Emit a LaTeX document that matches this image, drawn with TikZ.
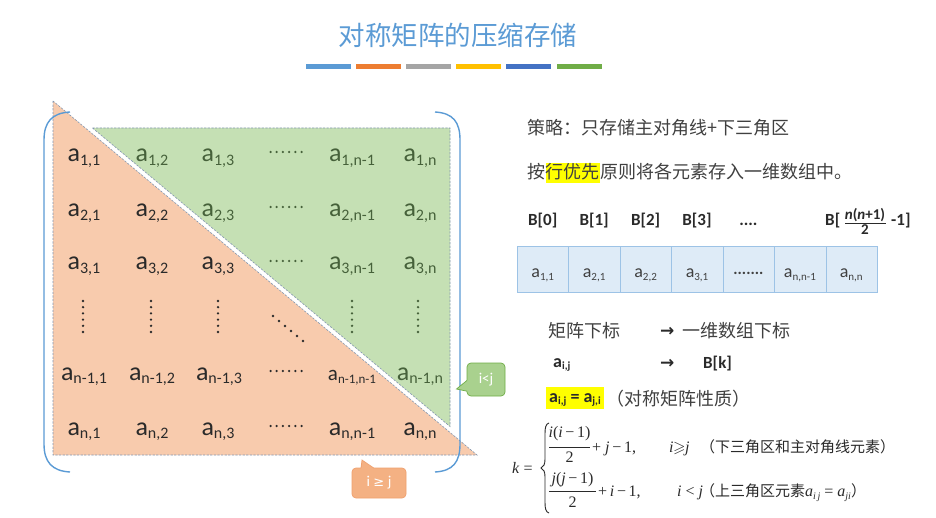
\documentclass[tikz,border=0pt]{standalone}
\usepackage{amsmath,amssymb}
\usepackage[no-math]{fontspec}
\usepackage{graphicx}
\setmainfont{Carlito}
\newfontfamily\cjk{Noto Sans CJK SC}
\newfontfamily\djv{DejaVu Sans}
\newfontfamily\tms{Liberation Serif}
\definecolor{ttl}{HTML}{5B9BD5}
\definecolor{bara}{HTML}{5B9BD5}
\definecolor{barb}{HTML}{ED7D31}
\definecolor{barc}{HTML}{A5A5A5}
\definecolor{bard}{HTML}{FFC000}
\definecolor{bare}{HTML}{4472C4}
\definecolor{barf}{HTML}{70AD47}
\definecolor{orf}{HTML}{F8CBAD}
\definecolor{grf}{HTML}{C5E0B4}
\definecolor{dsh}{HTML}{8497B0}
\definecolor{brkc}{HTML}{5B9BD5}
\definecolor{txd}{HTML}{2A2A2A}
\definecolor{txg}{HTML}{46613A}
\definecolor{cgf}{HTML}{A9D18E}
\definecolor{cgb}{HTML}{70AD47}
\definecolor{cof}{HTML}{F4B183}
\definecolor{cob}{HTML}{EFA06E}
\definecolor{cellf}{HTML}{DEEBF7}
\definecolor{cellb}{HTML}{9DC3E6}
\definecolor{gtx}{HTML}{404040}
\definecolor{hly}{HTML}{FFFF00}
\newcommand\ael[3]{{\fontsize{#1}{#1}\selectfont a\raisebox{-0.3ex}{\fontsize{#2}{#2}\selectfont #3}}}
\newcommand\abl[3]{{\fontsize{#1}{#1}\selectfont\bfseries a\raisebox{-0.3ex}{\fontsize{#2}{#2}\selectfont #3}}}
\newcommand\mentry[1]{\ael{26}{16}{#1}}
\newcommand\tmi[1]{{\tms\fontsize{16}{16}\selectfont\itshape #1}}
\newcommand\tmsb[1]{\raisebox{-3pt}{\tms\fontsize{10}{10}\selectfont\itshape #1}}
\begin{document}
\begin{tikzpicture}[x=1pt,y=-1pt,
  me/.style={anchor=base,inner sep=0pt},
  med/.style={me,text=txd},
  meg/.style={me,text=txg},
  dashb/.style={draw=dsh,line width=0.6pt,dash pattern=on 2.2pt off 1.4pt},
  brk/.style={draw=brkc,line width=1.4pt},
  cjkt/.style={inner sep=0pt,text=gtx,font=\cjk\fontsize{18}{18}\selectfont},
  cjks/.style={inner sep=0pt,text=txd,font=\cjk\fontsize{15}{15}\selectfont,anchor=base west},
  fm/.style={inner sep=0pt,text=txd,font=\tms\fontsize{16}{16}\selectfont},
  blab/.style={anchor=base,inner sep=0pt,text=txd,font=\fontsize{17}{17}\selectfont\bfseries},
  fracpart/.style={inner sep=0pt,text=txd,font=\fontsize{15}{15}\selectfont\bfseries},
  cellbox/.style={draw=cellb,fill=cellf,line width=0.8pt,minimum width=51.43pt,minimum height=46pt,anchor=north west,inner sep=0pt},
  celltxt/.style={anchor=base,inner sep=0pt,text=gtx},
  arr/.style={anchor=base west,inner sep=0pt,text=txd,font=\djv\bfseries\fontsize{17}{17}\selectfont},
  callg/.style={draw=cgb,fill=cgf,rounded corners=4pt,line width=0.7pt,minimum width=38pt,minimum height=33pt,inner sep=0pt,text=white,font=\fontsize{15}{15}\selectfont},
  callo/.style={draw=cob,fill=cof,rounded corners=4pt,line width=0.7pt,minimum width=54pt,minimum height=30pt,inner sep=0pt,text=white,font=\fontsize{15}{15}\selectfont}
]
\useasboundingbox (0,0) rectangle (936,518);
\fill[white] (0,0) rectangle (936,518);

% title and colour bars
\node[text=ttl,font=\cjk\fontsize{26.5}{26.5}\selectfont] (title) at (458,35) {对称矩阵的压缩存储};
\foreach \xx/\cc in {306/bara,356/barb,406/barc,456/bard,506/bare,557/barf}
  \fill[\cc] (\xx,64) rectangle ++(45,5);

% matrix regions
\fill[orf] (53,101) -- (53,455) -- (477,455) -- cycle;
\draw[dashb] (53,101) -- (53,455) -- (477,455) -- cycle;
\fill[grf] (92.5,128) -- (450,128) -- (450,426.5) -- cycle;
\draw[dashb] (92.5,128) -- (450,128) -- (450,426.5) -- cycle;

% brackets
\draw[brk] (70,112) .. controls (52,113) and (44,122) .. (44,140) -- (44,444) .. controls (44,462) and (52,471) .. (70,472);
\draw[brk] (435,112) .. controls (453,113) and (460,122) .. (460,140) -- (460,444) .. controls (460,462) and (453,471) .. (435,472);

% row 1
\node[med] (a11) at (84,162) {\mentry{1,1}};
\node[meg] (a12) at (152,162) {\mentry{1,2}};
\node[meg] (a13) at (218,162) {\mentry{1,3}};
\node[meg] (a1m) at (352,162) {\mentry{1,n-1}};
\node[meg] (a1n) at (420,162) {\mentry{1,n}};
% row 2
\node[med] (a21) at (84,217) {\mentry{2,1}};
\node[med] (a22) at (152,217) {\mentry{2,2}};
\node[meg] (a23) at (218,217) {\mentry{2,3}};
\node[meg] (a2m) at (352,217) {\mentry{2,n-1}};
\node[meg] (a2n) at (420,217) {\mentry{2,n}};
% row 3
\node[med] (a31) at (84,270) {\mentry{3,1}};
\node[med] (a32) at (152,270) {\mentry{3,2}};
\node[med] (a33) at (218,270) {\mentry{3,3}};
\node[meg] (a3m) at (352,270) {\mentry{3,n-1}};
\node[meg] (a3n) at (420,270) {\mentry{3,n}};
% row n-1
\node[med] (am1) at (84,380) {\mentry{n-1,1}};
\node[med] (am2) at (152,380) {\mentry{n-1,2}};
\node[med] (am3) at (219,380) {\mentry{n-1,3}};
\node[med] (amm) at (352,380) {\ael{21}{13}{n-1,n-1}};
\node[meg] (amn) at (420,380) {\mentry{n-1,n}};
% row n
\node[med] (an1) at (84,435) {\mentry{n,1}};
\node[med] (an2) at (152,435) {\mentry{n,2}};
\node[med] (an3) at (218,435) {\mentry{n,3}};
\node[med] (anm) at (352,435) {\mentry{n,n-1}};
\node[med] (ann) at (420,435) {\mentry{n,n}};

% horizontal dots
\foreach \yy/\cc in {152/txg,207/txg,261/txg,371/txd,426/txd}
  \foreach \k in {0,...,5}
    \fill[\cc] ({270.5+6.2*\k},\yy) circle (1.25pt);
% vertical dots
\foreach \xx/\cc in {83/txd,151/txd,218/txd,352/txg,418/txg}
  \foreach \k in {0,...,5}
    \fill[\cc] (\xx,{301+6.2*\k}) circle (1.3pt);
% diagonal dots
\foreach \k in {0,...,5}
  \fill[txd] ({273+6*\k},{316+5*\k}) circle (1.3pt);

% callouts
\node[callg] (cl) at (486,379.5) {i<j};
\fill[cgf] (467.8,380) -- (456.5,389) -- (467.8,391.5) -- cycle;
\draw[cgb,line width=0.7pt] (467,380.4) -- (456.5,389) -- (467,391.2);
\node[callo] (co) at (379,483) {i {\djv\fontsize{13}{13}\selectfont ≥} j};
\fill[cof] (360.6,468.8) -- (362,460) -- (374.5,468.8) -- cycle;
\draw[cob,line width=0.7pt] (361,468.2) -- (362,460) -- (374,468.2);

% right side text
\node[cjkt,anchor=base west] (l1) at (527,135) {策略：只存储主对角线+下三角区};
\node[cjkt,anchor=base west] (l2a) at (527,179) {按};
\node[cjkt,anchor=base west,fill=hly] (l2b) at (l2a.base east) {\rule[-4pt]{0pt}{20pt}行优先};
\node[cjkt,anchor=base west] (l2c) at (l2b.base east) {原则将各元素存入一维数组中。};

% B labels
\node[blab] (b0) at (542.7,226) {B[0]};
\node[blab] (b1) at (594.1,226) {B[1]};
\node[blab] (b2) at (645.6,226) {B[2]};
\node[blab] (b3) at (697.0,226) {B[3]};
\node[blab] (b4) at (748.4,226) {....};
\node[blab,anchor=base west] (b5a) at (825,226) {B[};
\node[fracpart,anchor=south] (b5n) at (865,221.5) {\textit{n}(\textit{n}+1)};
\node[fracpart,anchor=north] (b5d) at (865,224.5) {2};
\draw[txd,line width=0.8pt] (845,223) -- (886,223);
\node[blab,anchor=base west] (b5b) at (891,226) {-1]};

% array
\foreach \i in {0,...,6}
  \node[cellbox] (cell\i) at ({517+51.43*\i},246) {};
\node[celltxt] (t0) at (542.7,278) {\ael{18}{11}{1,1}};
\node[celltxt] (t1) at (594.1,278) {\ael{18}{11}{2,1}};
\node[celltxt] (t2) at (645.6,278) {\ael{18}{11}{2,2}};
\node[celltxt] (t3) at (697.0,278) {\ael{18}{11}{3,1}};
\node[celltxt] (t4) at (748.4,275) {\fontsize{16}{16}\selectfont\bfseries .......};
\node[celltxt] (t5) at (799.9,278) {\ael{18}{11}{n,n-1}};
\node[celltxt] (t6) at (851.3,278) {\ael{18}{11}{n,n}};

% index mapping
\node[cjkt,anchor=base west] (m1) at (548,337) {矩阵下标};
\node[arr] (ar1) at (660,336) {→};
\node[cjkt,anchor=base west] (m2) at (682,337) {一维数组下标};
\node[anchor=base west,inner sep=0pt,text=txd] (m3) at (553,367) {\abl{18}{11}{i,j}};
\node[arr] (ar2) at (660,368) {→};
\node[anchor=base west,inner sep=0pt,text=txd,font=\fontsize{17}{17}\selectfont\bfseries] (m4) at (703,368) {B[k]};
\node[anchor=base west,fill=hly,inner xsep=3pt,inner ysep=3pt,text=txd] (prop) at (546,402)
  {\rule[-4pt]{0pt}{16pt}\abl{18}{11}{i,j}{\fontsize{18}{18}\selectfont\bfseries\ =\ }\abl{18}{11}{j,i}};
\node[cjkt,anchor=base west] (propt) at ([xshift=2pt,yshift=-3pt]prop.base east) {（对称矩阵性质）};

% formula
\node[fm,anchor=base west] (fk) at (512,473) {\textit{k} =};
\draw[txd,line width=0.9pt] (549,423) .. controls (545.5,424) and (545,428) .. (545,434) -- (545,459)
  .. controls (545,464.5) and (543.5,467) .. (541,468) .. controls (543.5,469) and (545,471.5) .. (545,477)
  -- (545,502) .. controls (545,508) and (545.5,512) .. (549,513);
% case 1
\node[fm,anchor=base] (n1) at (569.5,437) {\textit{i}(\textit{i}\,−\,1)};
\draw[txd,line width=0.7pt] (549,447) -- (590,447);
\node[fm,anchor=base] (d1) at (569.5,462) {2};
\node[fm,anchor=base west] (r1) at (592,452) {+ \textit{j}\,−\,1,};
\node[fm,anchor=base west] (c1) at (669,452) {\textit{i}\kern-0.5pt$\geqslant$\kern-0.5pt\textit{j}};
\node[cjks] (x1) at (700,452.5) {（下三角区和主对角线元素）};
% case 2
\node[fm,anchor=base] (n2) at (572.5,483) {\textit{j}(\textit{j}\,−\,1)};
\draw[txd,line width=0.7pt] (549,491) -- (596,491);
\node[fm,anchor=base] (d2) at (572.5,507) {2};
\node[fm,anchor=base west] (r2) at (598,496) {+\,\textit{i}\,−\,1,};
\node[fm,anchor=base west] (c2) at (677,496) {\textit{i} < \textit{j}};
\node[cjks] (x2) at (700,496.5) {（上三角区元素\tmi{a}\tmsb{i\,j}{\tms\fontsize{16}{16}\selectfont\ =\ }\tmi{a}\tmsb{ji}）};
\end{tikzpicture}
\end{document}
